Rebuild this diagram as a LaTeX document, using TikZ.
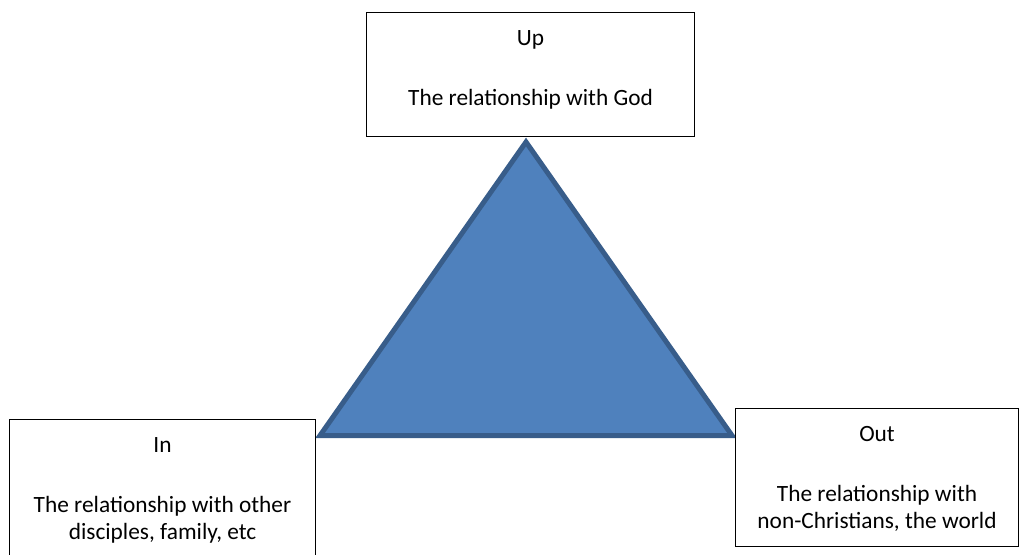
\documentclass[tikz,border=0pt]{standalone}
\usepackage{fontspec}
\setmainfont{Carlito}
\usetikzlibrary{positioning}
\definecolor{triblue}{HTML}{4F81BD}
\definecolor{triedge}{HTML}{385D8A}

\begin{document}
\begin{tikzpicture}[x=0.75pt, y=-0.75pt,
    relbox/.style={draw=black, fill=white, line width=0.8pt, rectangle, inner sep=0pt},
    reltext/.style={inner sep=0pt, align=center, font=\fontsize{17.5pt}{20pt}\selectfont}]
    % Frame
    \useasboundingbox (0,0) rectangle (1019,555);
    \clip (0,0) rectangle (1019,555);

    % Triangle
    \coordinate (apex)  at (526,142);
    \coordinate (left)  at (320,435.5);
    \coordinate (right) at (732,435.5);
    \draw [triedge, fill=triblue, line width=3.75pt] (apex) -- (left) -- (right) -- cycle;

    % Boxes {up, in, out}
    \node [relbox, minimum width=246pt,    minimum height=93pt,    anchor=north west] (up)  at (366,12)  {};
    \node [relbox, minimum width=229.5pt,  minimum height=120pt,   anchor=north west] (in)  at (9,419)   {};
    \node [relbox, minimum width=212.25pt, minimum height=103.5pt, anchor=north west] (out) at (735,408) {};

    % Texts
    \node [reltext, below=13.9pt of up.north]  (uptext)  {Up\\[25pt]The relationship with God};
    \node [reltext, below=13.9pt of in.north]  (intext)  {In\\[25pt]The relationship with other\\disciples, family, etc};
    \node [reltext, below=13.9pt of out.north] (outtext) {Out\\[25pt]The relationship with\\non-Christians, the world};

\end{tikzpicture}
\end{document}
